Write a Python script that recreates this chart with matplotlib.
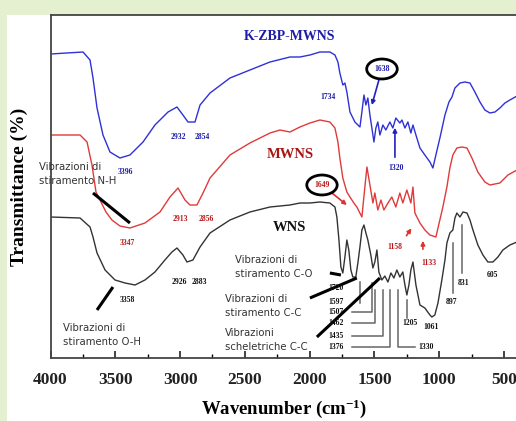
import matplotlib
matplotlib.use("Agg")
import matplotlib.pyplot as plt
from matplotlib.ticker import MultipleLocator

plt.rcParams["mathtext.fontset"] = "custom"
plt.rcParams["mathtext.rm"] = "Liberation Serif:bold"
plt.rcParams["mathtext.it"] = "Liberation Serif:bold"
plt.rcParams["mathtext.bf"] = "Liberation Serif:bold"

# ---------------- data ----------------
blue_wn = [4000, 3749, 3695, 3672, 3641, 3595, 3541, 3464, 3387, 3286, 3194, 3093, 3024, 2978,
           2939, 2885, 2846, 2769, 2615, 2461, 2306, 2152, 2075, 1998, 1921, 1844, 1805, 1782,
           1767, 1744, 1728, 1713, 1689, 1651, 1612, 1597, 1581, 1566, 1551, 1535, 1520, 1504,
           1489, 1474, 1458, 1435, 1412, 1381, 1358, 1335, 1304, 1288, 1265, 1242, 1219, 1203,
           1180, 1149, 1111, 1072, 1049, 1026, 995, 956, 925, 902, 879, 840, 802, 763, 725, 686,
           648, 609, 570, 532, 493, 455, 400]
blue_t = [304, 306, 298, 280, 250, 223, 206, 200, 203, 216, 233, 246, 251, 243,
          236, 236, 253, 265, 280, 288, 296, 301, 301, 303, 306, 306, 303, 296,
          285, 273, 275, 266, 246, 236, 231, 246, 263, 253, 260, 243, 230, 216,
          230, 236, 223, 233, 228, 236, 230, 240, 235, 238, 230, 236, 225, 233,
          223, 210, 203, 196, 190, 203, 220, 243, 256, 261, 270, 275, 276, 275, 266, 256,
          248, 245, 246, 250, 255, 258, 262]

red_wn = [4000, 3772, 3718, 3680, 3649, 3618, 3572, 3526, 3464, 3387, 3271, 3155, 3078, 3016,
          2962, 2924, 2870, 2823, 2769, 2615, 2461, 2306, 2229, 2152, 2075, 1998, 1921, 1844,
          1805, 1782, 1767, 1744, 1713, 1689, 1659, 1636, 1597, 1574, 1558, 1535, 1512, 1497,
          1474, 1450, 1427, 1396, 1366, 1335, 1304, 1281, 1250, 1219, 1203, 1188, 1149, 1111,
          1072, 1026, 972, 941, 918, 895, 864, 825, 786, 748, 702, 648, 609, 532, 470, 400]
red_t = [223, 223, 216, 193, 166, 158, 146, 138, 132, 130, 135, 146, 161, 170,
         158, 153, 153, 165, 180, 203, 215, 225, 228, 226, 231, 235, 238, 236,
         230, 216, 200, 180, 166, 161, 155, 151, 141, 171, 191, 173, 155, 165,
         148, 158, 148, 155, 161, 151, 165, 155, 168, 155, 171, 145, 135, 128,
         123, 121, 151, 171, 190, 203, 210, 211, 210, 200, 186, 176, 173, 175, 183, 188]

black_wn = [4000, 3772, 3695, 3672, 3641, 3579, 3502, 3425, 3348, 3271, 3194, 3117, 3063, 3024,
            2978, 2947, 2901, 2846, 2769, 2615, 2461, 2306, 2152, 2075, 1998, 1921, 1844, 1805,
            1790, 1774, 1759, 1744, 1728, 1713, 1698, 1682, 1667, 1644, 1628, 1612, 1597, 1581,
            1566, 1551, 1528, 1512, 1497, 1481, 1466, 1443, 1420, 1396, 1373, 1350, 1327, 1304,
            1281, 1265, 1250, 1234, 1219, 1203, 1180, 1149, 1111, 1072, 1057, 1034, 1010, 980,
            956, 941, 918, 895, 879, 864, 840, 817, 786, 763, 740, 702, 663, 625, 586, 547, 509,
            455, 400]
black_t = [141, 140, 131, 121, 105, 88, 78, 75, 73, 78, 86, 98, 106, 110,
           103, 96, 98, 111, 125, 138, 146, 151, 153, 155, 155, 156, 155, 151,
           141, 118, 91, 85, 101, 118, 108, 88, 81, 81, 95, 111, 128, 133,
           125, 118, 103, 90, 96, 108, 86, 78, 82, 76, 85, 80, 88, 81,
           86, 73, 63, 73, 88, 96, 73, 53, 50, 43, 41, 43, 55, 78,
           98, 115, 125, 128, 140, 145, 141, 146, 145, 138, 128, 113, 103, 96, 96, 101, 108,
           113, 116]

x_ticks = [4000, 3500, 3000, 2500, 2000, 1500, 1000, 500]
x_tick_labels = ["4000", "3500", "3000", "2500", "2000", "1500", "1000", "500"]

# peak labels: (text, wavenumber, transmittance, color)
peak_labels = [
    ("3396", 3425, 186, "#1c1ca8"), ("2932", 3016, 221, "#1c1ca8"), ("2854", 2831, 221, "#1c1ca8"),
    ("1734", 1859, 261, "#1c1ca8"), ("1320", 1334, 190, "#1c1ca8"),
    ("3347", 3410, 115, "#b81818"), ("2913", 3001, 139, "#b81818"), ("2856", 2800, 139, "#b81818"),
    ("1158", 1342, 111, "#b81818"), ("1133", 1079, 95, "#b81818"),
    ("3358", 3410, 58, "#111111"), ("2926", 3008, 76, "#111111"), ("2883", 2854, 76, "#111111"),
    ("1720", 1797, 70, "#111111"), ("1597", 1797, 56, "#111111"), ("1507", 1797, 46, "#111111"),
    ("1462", 1797, 35, "#111111"), ("1435", 1797, 22, "#111111"), ("1376", 1797, 11, "#111111"),
    ("1330", 1103, 11, "#111111"), ("1205", 1226, 35, "#111111"), ("1061", 1064, 31, "#111111"),
    ("897", 902, 56, "#111111"), ("831", 809, 75, "#111111"), ("605", 586, 83, "#111111"),
]

# ---------------- figure ----------------
fig = plt.figure(figsize=(5.16, 4.21), dpi=100, facecolor="#e4f0cf")
fig.patches.append(plt.Rectangle((7 / 516, 0), 1, 1 - 15 / 421, transform=fig.transFigure,
                                 facecolor="white", edgecolor="none", zorder=-10))
ax = fig.add_axes([50.5 / 516, 1 - 358 / 421, 466.5 / 516, 343 / 421])
ax.set_facecolor("white")

ax.plot(blue_wn, blue_t, color="#3030d8", lw=1.0)
ax.plot(red_wn, red_t, color="#e03a3a", lw=1.0)
ax.plot(black_wn, black_t, color="#333333", lw=1.0)

ax.set_xlim(4000, 400)
ax.set_ylim(0, 343)
ax.set_xticks(x_ticks)
ax.set_xticklabels(x_tick_labels)
ax.xaxis.set_minor_locator(MultipleLocator(250))
ax.set_yticks([])
ax.tick_params(axis="x", which="major", direction="in", length=5, width=1.2, pad=10,
               labelsize=12.5, colors="#222222")
ax.tick_params(axis="x", which="minor", direction="in", length=3, width=1.0)
for lab in ax.get_xticklabels():
    lab.set_fontfamily("Liberation Serif")
    lab.set_fontweight("bold")
for s in ax.spines.values():
    s.set_color("#444444")
    s.set_linewidth(1.3)

ax.set_xlabel("Wavenumber (cm$^{-1}$)", fontsize=13.5, fontweight="bold",
              fontfamily="Liberation Serif", labelpad=7)
ax.set_ylabel("Transmittance (%)", fontsize=14, fontweight="bold",
              fontfamily="Liberation Serif", labelpad=16)

serif = dict(fontfamily="Liberation Serif", fontweight="bold")
ax.text(2152, 321, "K-ZBP-MWNS", color="#1c1ca8", fontsize=10, ha="center", va="center", **serif)
ax.text(2152, 203, "MWNS", color="#a81515", fontsize=10.5, ha="center", va="center", **serif)
ax.text(2152, 130, "WNS", color="#111111", fontsize=10.5, ha="center", va="center", **serif)

for txt, wx, ty, c in peak_labels:
    ax.text(wx, ty, txt, color=c, fontsize=5.5, ha="center", va="center", **serif)

# circled labels with arrows
ax.annotate("1638", xy=(1520, 253), xytext=(1442, 289), color="#1c1ca8", fontsize=5.5,
            ha="center", va="center", **serif,
            bbox=dict(boxstyle="ellipse,pad=0.4", fc="white", ec="black", lw=2),
            arrowprops=dict(arrowstyle="-|>", color="#2020c0", lw=1.2, mutation_scale=6,
                            shrinkA=0, shrinkB=0))
ax.annotate("1649", xy=(1713, 153), xytext=(1905, 173), color="#b81818", fontsize=5.5,
            ha="center", va="center", **serif,
            bbox=dict(boxstyle="ellipse,pad=0.4", fc="white", ec="black", lw=2),
            arrowprops=dict(arrowstyle="-|>", color="#e03030", lw=1.2, mutation_scale=6,
                            shrinkA=0, shrinkB=0))
# plain arrows
ax.annotate("", xy=(1342, 233), xytext=(1342, 198),
            arrowprops=dict(arrowstyle="-|>", color="#2020c0", lw=1.2, mutation_scale=6))
ax.annotate("", xy=(1203, 132), xytext=(1265, 120),
            arrowprops=dict(arrowstyle="-|>", color="#e03030", lw=1.2, mutation_scale=6))
ax.annotate("", xy=(1126, 120), xytext=(1126, 106),
            arrowprops=dict(arrowstyle="-|>", color="#e03030", lw=1.2, mutation_scale=6))

# leader lines for WNS peaks (grey)
grey = dict(color="#666666", lw=1.1)
ax.plot([1674, 1520, 1520], [46, 46, 75], **grey)
ax.plot([1674, 1496, 1496], [35, 35, 68], **grey)
ax.plot([1674, 1435, 1435], [22, 22, 68], **grey)
ax.plot([1674, 1381, 1381], [11, 11, 68], **grey)
ax.plot([1188, 1319, 1319], [11, 11, 68], **grey)
ax.plot([1612, 1612], [55, 76], **grey)
ax.plot([1249, 1249], [40, 58], **grey)
ax.plot([894, 894], [65, 115], **grey)
ax.plot([825, 825], [85, 133], **grey)

# descriptive annotations
sans = dict(fontfamily="DejaVu Sans", fontsize=7.3, color="#333333", linespacing=1.45,
            ha="left", va="center")
ax.text(4089, 184, "Vibrazioni di\nstiramento N-H", clip_on=False, **sans)
ax.text(3904, 23, "Vibrazioni di\nstiramento O-H", **sans)
ax.text(2576, 91, "Vibrazioni di\nstiramento C-O", **sans)
ax.text(2653, 52, "Vibrazioni di\nstiramento C-C", **sans)
ax.text(2653, 18, "Vibrazioni\nscheletriche C-C", **sans)

thick = dict(color="black", lw=2.2, solid_capstyle="butt")
ax.plot([3672, 3387], [165, 135], **thick)
ax.plot([3641, 3518], [48, 71], **thick)
ax.plot([1844, 1759], [85, 83], **thick)
ax.plot([1998, 1636], [60, 80], **thick)
ax.plot([1944, 1458], [21, 80], **thick)

fig.savefig("out.png", dpi=100, facecolor=fig.get_facecolor())
